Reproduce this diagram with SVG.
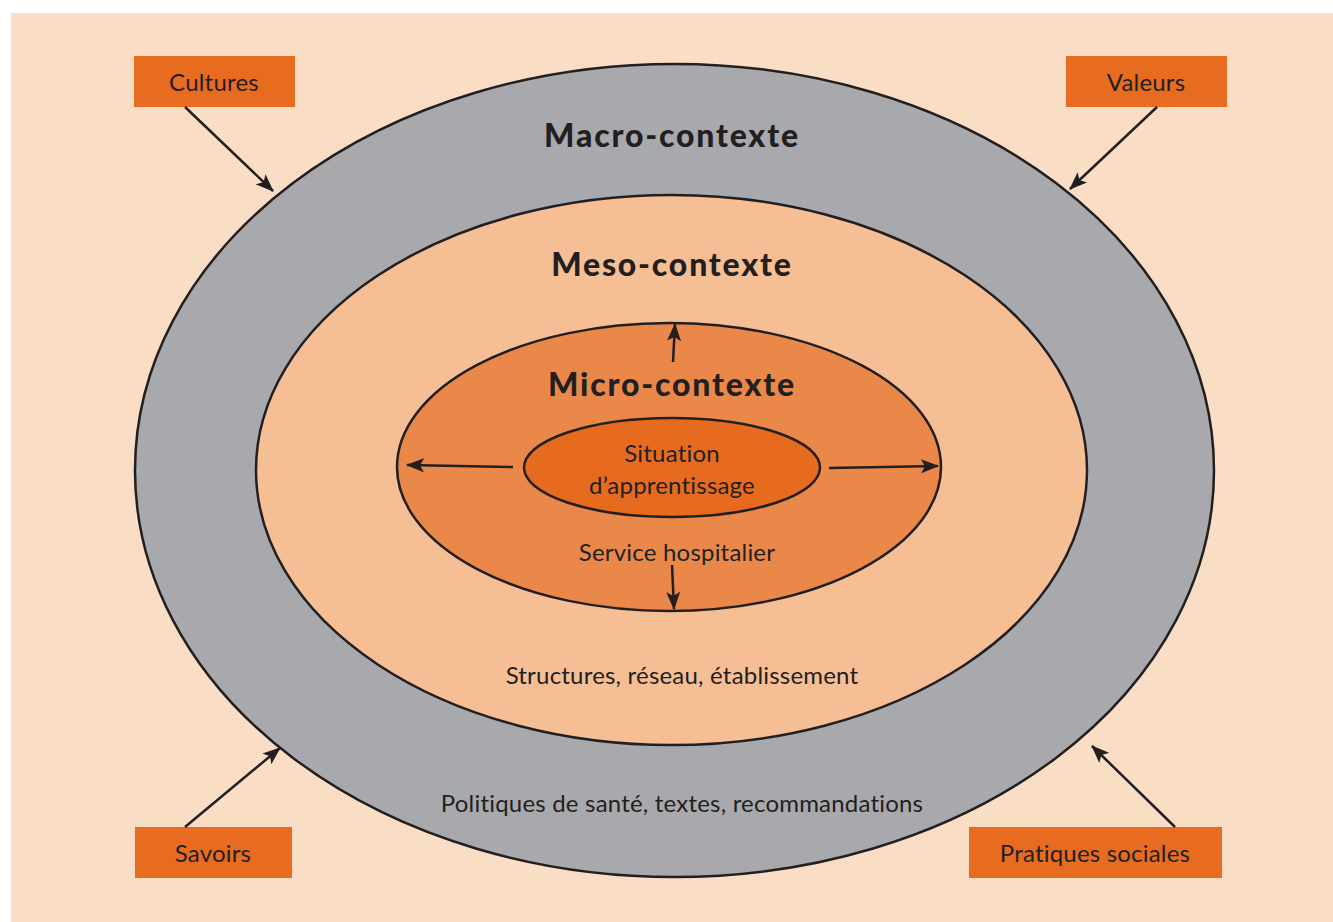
<svg xmlns="http://www.w3.org/2000/svg" width="1333" height="922" viewBox="0 0 1333 922">
<defs>
<marker id="ah" markerWidth="18" markerHeight="14" refX="17" refY="7" orient="auto" markerUnits="userSpaceOnUse">
<path d="M0,0 L18,7 L0,14 L4,7 Z" fill="#231F20"/>
</marker>
<style>
.ell{stroke:#231F20;stroke-width:2.5}
.box{fill:#E76C1F}
.t{font-family:Lato,"Open Sans","Liberation Sans",sans-serif;fill:#231F20;text-anchor:middle}
.b{font-weight:900;font-size:32px;letter-spacing:1.8px}
.r{font-size:24px;letter-spacing:0.2px}
.c{stroke:#231F20;stroke-width:2.5;fill:none;marker-end:url(#ah)}
</style>
</defs>
<rect x="0" y="0" width="1333" height="922" fill="#FFFFFF"/>
<rect x="11" y="13" width="1322" height="909" fill="#FADDC5"/>
<g id="macro">
<ellipse class="ell" cx="674.5" cy="470.5" rx="539.5" ry="406.5" fill="#A8A9AD"/>
<text class="t b" x="672" y="147">Macro-contexte</text>
<text class="t r" x="682" y="812">Politiques de santé, textes, recommandations</text>
</g>
<g id="meso">
<ellipse class="ell" cx="671.5" cy="470" rx="415.5" ry="275" fill="#F6BE95"/>
<text class="t b" x="672" y="276">Meso-contexte</text>
<text class="t r" x="682" y="684">Structures, réseau, établissement</text>
</g>
<g id="micro">
<ellipse class="ell" cx="669" cy="467" rx="272" ry="144" fill="#EA8849"/>
<text class="t b" x="672" y="396">Micro-contexte</text>
<text class="t r" x="677" y="561">Service hospitalier</text>
</g>
<g id="situation">
<ellipse class="ell" cx="672" cy="467.5" rx="148" ry="49.5" fill="#E66B1E"/>
<text class="t r" x="672" y="462">Situation</text>
<text class="t r" x="672" y="494">d’apprentissage</text>
</g>
<g id="cultures">
<rect class="box" x="134" y="56" width="161" height="51"/>
<text class="t r" x="214" y="91">Cultures</text>
</g>
<g id="valeurs">
<rect class="box" x="1066" y="56" width="161" height="51"/>
<text class="t r" x="1146" y="91">Valeurs</text>
</g>
<g id="savoirs">
<rect class="box" x="135" y="827" width="157" height="51"/>
<text class="t r" x="213" y="862">Savoirs</text>
</g>
<g id="pratiques">
<rect class="box" x="969" y="827" width="253" height="51"/>
<text class="t r" x="1095" y="862">Pratiques sociales</text>
</g>
<g id="connectors">
<line class="c" x1="185" y1="107" x2="273" y2="191"/>
<line class="c" x1="1157" y1="107" x2="1070" y2="189"/>
<line class="c" x1="185" y1="827" x2="280" y2="748"/>
<line class="c" x1="1175" y1="827" x2="1092" y2="746"/>
<line class="c" x1="673" y1="362" x2="675" y2="324"/>
<line class="c" x1="513" y1="467" x2="407" y2="465"/>
<line class="c" x1="829" y1="468" x2="938" y2="466"/>
<line class="c" x1="672" y1="565" x2="674" y2="609"/>
</g>
</svg>
